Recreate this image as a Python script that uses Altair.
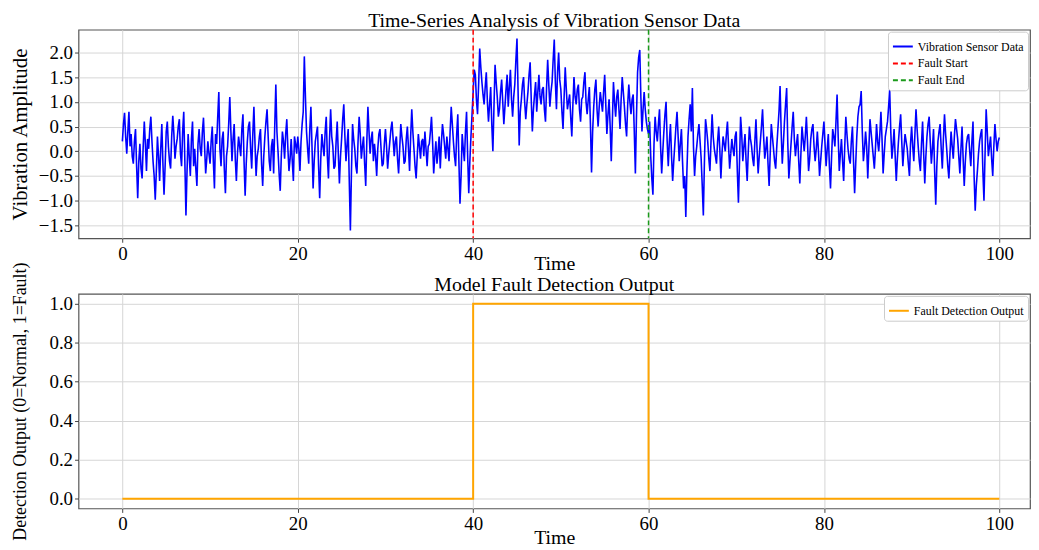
import altair as alt
import pandas as pd

# ---- data ----
# values at t = 0, 0.25, 0.5, ...
vib_0_10 = [0.20, 0.78, -0.05, 0.80, 0.35, -0.25, 0.45, -0.95, 0.15, -0.55,
            0.60, -0.40, 0.05, 0.70, -0.20, -0.98, 0.30, -0.60, 0.55, -0.88,
            0.40, 0.10, -0.35, 0.72, -0.15, 0.25, 0.65, -0.30, 0.80, -1.30,
            0.35, -0.50, 0.60, 0.05, -0.70, 0.45, -0.10, 0.68, -0.45, 0.20]
vib_10_20 = [-0.25, 0.50, -0.75, 0.15, 1.20, -0.30, 0.40, -0.85, 0.10, 1.10,
             -0.20, 0.55, -0.60, 0.30, -0.10, 0.75, -0.90, 0.20, 0.60, -0.35,
             0.90, -0.50, 0.05, 0.45, -0.70, 0.30, 0.85, -0.20, 0.10, -0.45,
             1.35, 0.00, -0.80, 0.40, -0.15, 0.65, -0.40, 0.25, -0.60, 0.15]
vib_20_30 = [0.30, -0.40, 0.55, 1.92, 0.40, -0.25, 0.90, -0.75, 0.20, 0.50,
             -0.95, 0.35, -0.10, 0.70, -0.55, 0.85, 0.10, -0.30, 0.60, -0.65,
             0.25, 0.95, -0.20, 0.45, -1.60, 0.55, 0.05, -0.45, 0.70, -0.15,
             0.30, -0.70, 0.90, -0.05, 0.40, 0.15, -0.50, 0.35, 0.05, -0.25]
vib_30_40 = [0.45, -0.35, 0.20, 0.60, -0.10, 0.30, -0.45, 0.55, 0.10, -0.20,
             0.50, -0.40, 0.85, 0.05, -0.55, 0.35, -0.15, 0.25, 0.40, -0.30,
             0.15, 0.70, -0.45, 0.20, 0.00, -0.35, 0.55, 0.10, 0.30, -0.20,
             0.90, 0.20, -0.30, 0.75, -1.06, 0.35, -0.20, 0.80, -0.85, 0.30]
vib_40_50 = [1.20, 1.55, 0.75, 2.08, 1.40, 0.95, 1.60, 0.60, 1.30, 0.00,
             1.75, 1.10, 0.85, 1.45, 0.55, 1.25, 0.90, 1.65, 0.70, 1.35,
             2.28, 0.12, 1.05, 1.50, 0.65, 1.20, 1.80, 0.40, 1.15, 0.80,
             1.55, 0.95, 1.30, 0.60, 1.85, 0.90, 1.40, 2.26, 0.85, 2.00]
vib_50_60 = [1.25, 0.45, 1.70, 0.85, 1.15, 0.30, 1.50, 0.95, 1.35, 0.60,
             1.10, 1.60, 0.75, 1.30, -0.43, 0.90, 1.45, 0.50, 1.20, 0.80,
             1.55, 0.35, 1.05, -0.20, 1.40, 0.70, 1.25, 0.45, 1.50, 0.90,
             0.30, 1.35, 0.75, 1.15, -0.45, 1.60, 2.05, 0.40, 1.20, 0.60]
vib_60_70 = [0.35, -0.10, -0.88, 0.70, 0.20, 0.85, -0.45, 0.40, 1.00, -0.30,
             0.55, -0.60, 0.15, 0.80, -0.20, 0.45, -0.75, -1.33, 0.30, 0.95,
             1.28, -0.50, 0.10, 0.55, -0.15, -1.30, 0.65, 0.20, -0.40, 0.75,
             0.05, -0.25, 0.50, -0.55, 0.30, 0.00, 0.60, -0.35, 0.25, -0.10]
vib_70_80 = [0.40, -1.04, 0.70, -0.20, 0.35, -0.60, 0.50, 0.10, -0.30, 0.65,
             -0.45, 0.20, 0.85, -0.15, 0.30, -0.70, 0.55, 0.05, -0.35, 0.45,
             1.32, -0.25, 0.60, 1.28, -0.55, 0.15, 0.80, -0.10, 0.35, -0.65,
             0.50, 0.00, 0.70, -0.40, 0.25, 0.55, -0.20, 0.40, -0.50, 0.10]
vib_80_90 = [0.60, -0.30, 0.35, -0.75, 0.45, 0.10, 1.15, -0.40, 0.25, -0.60,
             0.70, 0.05, -0.25, 0.50, -0.85, 0.30, 0.90, 1.22, -0.20, 0.40,
             -0.55, 0.65, 0.15, -0.35, 0.55, 0.00, 0.80, -0.45, 0.30, 0.60,
             1.25, -0.15, 0.45, -0.60, 0.20, 0.75, -0.30, 0.35, 0.05, -0.50]
vib_90_100 = [0.50, -0.20, 0.85, 0.10, -0.40, 0.60, -0.65, 0.30, 0.70, -0.25,
              0.45, -1.08, 0.20, 0.55, -0.35, 0.75, 0.05, -0.55, 0.40, -0.15,
              0.65, 0.25, -0.45, 0.50, -0.70, 0.15, 0.35, -0.30, 0.60, -1.20,
              -0.40, 0.20, 0.45, -1.00, 0.85, -0.10, 0.30, -0.50, 0.55, 0.00,
              0.28]

# values at t = 0.125, 0.375, 0.625, ...
mid_0_10 = [0.55, 0.30, 0.40, 0.10, -0.10, 0.20, -0.30, -0.20, -0.35, 0.10,
            0.15, 0.25, 0.45, 0.20, -0.50, -0.40, -0.10, 0.05, -0.25, -0.30,
            0.60, -0.20, 0.30, 0.35, 0.10, 0.50, -0.05, 0.40, -0.20, -0.40,
            -0.10, 0.25, -0.30, -0.35, 0.15, 0.05, 0.40, 0.10, -0.15, -0.05]
mid_10_20 = [0.20, -0.20, 0.35, 0.70, 0.05, 0.25, -0.35, -0.10, 0.55, 0.40,
             0.25, -0.15, -0.05, 0.10, 0.45, -0.20, -0.25, 0.50, 0.05, 0.35,
             0.15, -0.10, 0.30, -0.25, -0.10, 0.60, 0.30, -0.40, 0.25, 0.50,
             0.40, -0.45, -0.10, 0.20, 0.35, 0.05, -0.15, -0.20, 0.30, -0.05]
mid_20_30 = [0.05, 0.20, 0.80, 1.10, 0.05, 0.45, 0.10, -0.20, 0.35, -0.30,
             -0.15, 0.10, 0.40, -0.10, 0.25, 0.30, -0.35, 0.20, -0.05, -0.10,
             0.65, 0.30, 0.15, -0.60, -0.40, 0.25, -0.30, 0.20, 0.35, 0.10,
             -0.25, 0.20, 0.40, 0.25, -0.20, -0.10, 0.05, 0.45, -0.30, 0.15]
mid_30_40 = [0.10, -0.05, 0.45, 0.25, 0.20, -0.15, 0.05, 0.30, -0.25, 0.25,
             0.05, 0.30, 0.40, -0.30, -0.10, 0.10, 0.20, -0.10, 0.05, 0.10,
             0.40, 0.20, -0.10, -0.25, 0.30, 0.15, 0.35, -0.15, 0.05, 0.40,
             0.55, -0.10, 0.35, -0.20, -0.50, 0.05, 0.40, -0.10, -0.20, 0.75]
mid_40_50 = [1.65, 1.05, 1.35, 1.70, 1.15, 1.30, 1.00, 0.95, 0.55, 0.90,
             1.40, 0.70, 1.20, 1.00, 0.90, 1.55, 1.30, 1.05, 1.10, 1.85,
             1.20, 0.80, 1.35, 1.00, 0.95, 1.55, 1.05, 0.85, 1.40, 1.20,
             1.10, 1.25, 0.85, 1.30, 1.35, 1.20, 1.85, 1.40, 1.60, 1.45]
mid_50_60 = [0.80, 1.10, 1.25, 1.00, 0.70, 0.95, 1.10, 1.25, 0.85, 1.05,
             1.40, 1.00, 1.05, 0.55, 0.40, 1.25, 0.85, 0.90, 1.00, 1.20,
             0.95, 0.75, 0.50, 0.60, 1.00, 1.10, 0.85, 1.05, 1.20, 0.55,
             0.95, 1.00, 1.05, 0.40, 0.70, 1.90, 1.10, 0.85, 0.85, 0.45]
mid_60_70 = [0.60, -0.55, 0.15, 0.40, 0.55, 0.10, 0.00, 0.75, 0.20, 0.20,
             -0.10, -0.20, 0.50, 0.30, 0.15, -0.20, -0.50, -0.40, 0.65, 0.40,
             0.10, -0.10, 0.35, 0.20, -0.70, -0.20, 0.45, -0.15, 0.20, 0.30,
             -0.10, 0.20, 0.05, -0.05, 0.15, 0.35, 0.10, -0.05, 0.05, 0.30]
mid_70_80 = [-0.40, -0.20, 0.35, 0.10, -0.20, 0.00, 0.25, -0.15, 0.20, 0.05,
             -0.10, 0.50, 0.30, 0.05, -0.25, -0.05, 0.30, -0.20, 0.10, 0.80,
             0.40, 0.15, 0.95, 0.20, -0.20, 0.50, 0.25, 0.15, -0.20, -0.05,
             0.25, 0.30, 0.20, -0.15, 0.45, 0.10, 0.05, 0.00, -0.20, 0.35]
mid_80_90 = [0.15, 0.05, -0.30, -0.10, 0.30, 0.60, 0.30, -0.05, -0.20, 0.10,
             0.35, -0.15, 0.20, -0.20, -0.25, 0.70, 0.95, 0.40, 0.05, 0.10,
             0.05, 0.40, -0.10, 0.05, 0.20, 0.35, 0.25, -0.05, 0.45, 0.90,
             0.40, 0.10, -0.10, -0.15, 0.50, 0.20, 0.05, 0.20, -0.25, 0.15]
mid_90_100 = [0.10, 0.35, 0.45, -0.20, 0.15, -0.05, -0.10, 0.55, 0.20, 0.05,
              -0.40, -0.30, 0.40, 0.05, 0.25, 0.35, -0.30, -0.05, 0.10, 0.30,
              0.45, -0.10, 0.05, -0.15, -0.20, 0.30, 0.00, 0.20, -0.50, -0.70,
              -0.05, 0.35, -0.40, -0.05, 0.40, 0.10, -0.15, 0.10, 0.25, 0.20]

main_vals = (vib_0_10 + vib_10_20 + vib_20_30 + vib_30_40 + vib_40_50 +
             vib_50_60 + vib_60_70 + vib_70_80 + vib_80_90 + vib_90_100)
mid_vals = (mid_0_10 + mid_10_20 + mid_20_30 + mid_30_40 + mid_40_50 +
            mid_50_60 + mid_60_70 + mid_70_80 + mid_80_90 + mid_90_100)

time_step = 0.25
rows = []
for i, v in enumerate(main_vals):
    rows.append((i * time_step, v))
    if i < len(mid_vals):
        rows.append((i * time_step + time_step / 2, mid_vals[i]))

fault_times = [40, 60]
fault_labels = ["Fault Start", "Fault End"]

detect_times = [0, 40, 40, 60, 60, 100]
detect_values = [0, 0, 1, 1, 0, 0]

x_ticks = [0, 20, 40, 60, 80, 100]
y_ticks_top = [-1.5, -1.0, -0.5, 0.0, 0.5, 1.0, 1.5, 2.0]
y_ticks_bot = [0.0, 0.2, 0.4, 0.6, 0.8, 1.0]

series_domain = ["Vibration Sensor Data", "Fault Start", "Fault End"]
series_colors = ["#0000ff", "#ff0000", "#1a9a1a"]
series_dash = [[1, 0], [5, 3], [5, 3]]

FONT = "Liberation Serif"

vib_df = pd.DataFrame(rows, columns=["time", "value"])
vib_df["series"] = "Vibration Sensor Data"
vib_df["idx"] = range(len(vib_df))
fault_df = pd.DataFrame({"time": fault_times, "series": fault_labels})
det_df = pd.DataFrame({"time": detect_times, "value": detect_values,
                       "series": "Fault Detection Output",
                       "idx": range(len(detect_times))})

xscale = alt.Scale(domain=[-5, 103.5], nice=False, zero=False)
xaxis_top = alt.Axis(values=x_ticks, format="d", title="Time", titlePadding=-10)
xaxis_bot = alt.Axis(values=x_ticks, format="d", title="Time", titlePadding=-6)

legend_kw = dict(orient="top-right", title=None, offset=2, symbolType="stroke",
                 symbolSize=400, symbolStrokeWidth=2, labelFont=FONT,
                 labelFontSize=12, labelLimit=300, fillColor="white",
                 strokeColor="#cccccc", cornerRadius=3, padding=4,
                 rowPadding=-5, labelOffset=4)

color_enc = alt.Color("series:N",
                      scale=alt.Scale(domain=series_domain, range=series_colors),
                      legend=alt.Legend(**legend_kw))
dash_enc = alt.StrokeDash("series:N",
                          scale=alt.Scale(domain=series_domain, range=series_dash),
                          legend=alt.Legend(**legend_kw))

vib_line = alt.Chart(vib_df).mark_line(strokeWidth=1.6).encode(
    x=alt.X("time:Q", scale=xscale, axis=xaxis_top),
    y=alt.Y("value:Q",
            scale=alt.Scale(domain=[-1.76, 2.46], nice=False, zero=False),
            axis=alt.Axis(values=y_ticks_top, format=".1f",
                          title="Vibration Amplitude", titlePadding=8,
                          titleFontSize=21)),
    color=color_enc,
    strokeDash=dash_enc,
    order="idx:Q",
)

fault_rules = alt.Chart(fault_df).mark_rule(strokeWidth=1.5).encode(
    x=alt.X("time:Q", scale=xscale, axis=xaxis_top),
    color=color_enc,
    strokeDash=dash_enc,
)

top = alt.layer(vib_line, fault_rules).properties(
    width=958, height=210,
    title=alt.Title("Time-Series Analysis of Vibration Sensor Data",
                    fontSize=20, font=FONT, fontWeight="normal", offset=-2),
)

det_line = alt.Chart(det_df).mark_line(strokeWidth=2).encode(
    x=alt.X("time:Q", scale=xscale, axis=xaxis_bot),
    y=alt.Y("value:Q",
            scale=alt.Scale(domain=[-0.05, 1.05], nice=False, zero=False),
            axis=alt.Axis(values=y_ticks_bot, format=".1f",
                          title="Detection Output (0=Normal, 1=Fault)",
                          titlePadding=20, titleFontSize=18)),
    color=alt.Color("series:N",
                    scale=alt.Scale(domain=["Fault Detection Output"],
                                    range=["#ffa500"]),
                    legend=alt.Legend(**legend_kw)),
    order="idx:Q",
)

bottom = det_line.properties(
    width=958, height=216,
    title=alt.Title("Model Fault Detection Output", fontSize=20, font=FONT,
                    fontWeight="normal", offset=-33),
)

chart = (
    alt.vconcat(top, bottom, spacing=56, bounds="flush")
    .resolve_scale(color="independent", strokeDash="independent")
    .resolve_legend(color="independent", strokeDash="independent")
    .configure(background="white", padding=0)
    .configure_axis(
        labelFont=FONT, titleFont=FONT, labelFontSize=19, titleFontSize=20,
        titleFontWeight="normal", labelColor="black", titleColor="black",
        gridColor="#d6d6d6", gridWidth=1, domain=False, tickColor="#444444",
        tickSize=4, labelPadding=2,
    )
    .configure_view(stroke="#555555", strokeWidth=1.2)
)

chart.save("out.html", embed_options={"renderer": "svg", "actions": False})
